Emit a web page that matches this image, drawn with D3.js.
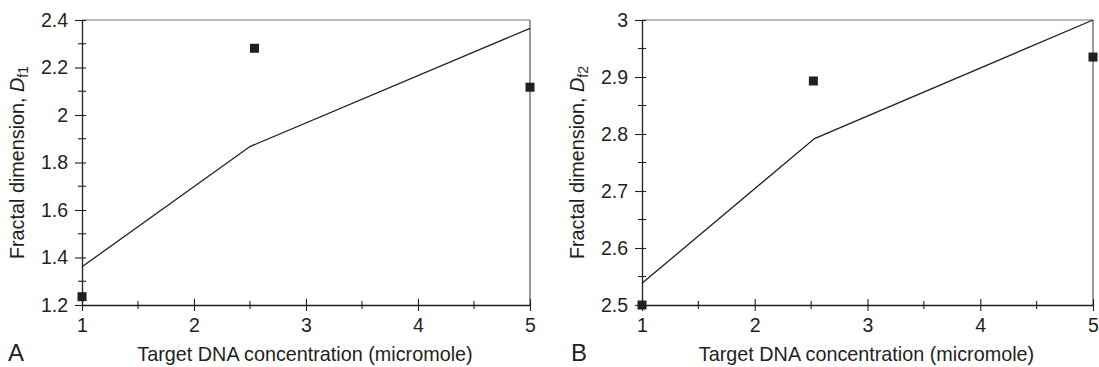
<!DOCTYPE html>
<html>
<head>
<meta charset="utf-8">
<script src="https://cdn.jsdelivr.net/npm/d3@7"></script>
<style>
  body { margin: 0; background: #fff; }
  svg { display: block; font-family: "Liberation Sans", Arial, sans-serif; }
</style>
</head>
<body>
<svg id="chart" width="1099" height="367"></svg>
<script>
// Target DNA concentration (micromole)
const xTicks = [1, 2, 3, 4, 5];

// Panel A: fractal dimension Df1
const aPointX = [1, 2.54, 5];
const aPointY = [1.235, 2.281, 2.117];
const aLineX = [1, 2.5, 5];
const aLineY = [1.361, 1.867, 2.365];
const aYTicks = [1.2, 1.4, 1.6, 1.8, 2, 2.2, 2.4];

// Panel B: fractal dimension Df2
const bPointX = [1, 2.52, 5];
const bPointY = [2.5, 2.893, 2.935];
const bLineX = [1, 2.53, 5];
const bLineY = [2.538, 2.792, 3.0];
const bYTicks = [2.5, 2.6, 2.7, 2.8, 2.9, 3];

const svg = d3.select("#chart");
const ink = "#231f20";
const tickFont = 19.5;
const titleFont = 19.8;

function panel(opts) {
  const { left, right, top, bottom, yDomain, yTicks, yMinor, pX, pY, lX, lY, sub, letter, letterX } = opts;
  const x = d3.scaleLinear().domain([1, 5]).range([left, right]);
  const y = d3.scaleLinear().domain(yDomain).range([bottom, top]);
  const g = svg.append("g");

  // frame: top and right edges
  g.append("line").attr("x1", left).attr("x2", right).attr("y1", top).attr("y2", top)
    .attr("stroke", "#777").attr("stroke-width", 1.2);
  g.append("line").attr("x1", right).attr("x2", right).attr("y1", top).attr("y2", bottom)
    .attr("stroke", "#555").attr("stroke-width", 1.2);

  // minor ticks (crossing the axes)
  const xMinor = d3.range(1.5, 5, 1);
  g.selectAll(".xminor").data(xMinor).join("line")
    .attr("x1", d => x(d)).attr("x2", d => x(d))
    .attr("y1", bottom - 4).attr("y2", bottom + 4)
    .attr("stroke", ink).attr("stroke-width", 1.1);
  g.selectAll(".yminor").data(yMinor).join("line")
    .attr("x1", left - 4).attr("x2", left + 4)
    .attr("y1", d => y(d)).attr("y2", d => y(d))
    .attr("stroke", ink).attr("stroke-width", 1.1);

  // x axis
  const xAxis = g.append("g").attr("transform", `translate(0,${bottom})`)
    .call(d3.axisBottom(x).tickValues(xTicks).tickFormat(d3.format("d")).tickSizeInner(6).tickSizeOuter(0).tickPadding(7));
  xAxis.select(".domain").attr("stroke", ink).attr("stroke-width", 1.3);
  xAxis.selectAll(".tick line").attr("y1", -6).attr("stroke", ink).attr("stroke-width", 1.1);
  xAxis.selectAll("text").attr("font-size", tickFont).attr("fill", ink).attr("font-family", "Liberation Sans, Arial, sans-serif");

  // y axis
  const yAxis = g.append("g").attr("transform", `translate(${left},0)`)
    .call(d3.axisLeft(y).tickValues(yTicks).tickFormat(d => d3.format("")(+d.toFixed(1))).tickSizeInner(7).tickSizeOuter(0).tickPadding(7));
  yAxis.select(".domain").attr("stroke", ink).attr("stroke-width", 1.3);
  yAxis.selectAll(".tick line").attr("x2", -7).attr("x1", 4).attr("stroke", ink).attr("stroke-width", 1.1);
  yAxis.selectAll("text").attr("font-size", tickFont).attr("fill", ink).attr("font-family", "Liberation Sans, Arial, sans-serif");

  // fitted line
  const line = d3.line().x(d => x(d[0])).y(d => y(d[1]));
  g.append("path").datum(d3.zip(lX, lY)).attr("d", line)
    .attr("fill", "none").attr("stroke", ink).attr("stroke-width", 1.3);

  // measured points
  const s = 9;
  g.selectAll(".pt").data(d3.zip(pX, pY)).join("rect")
    .attr("x", d => x(d[0]) - s / 2).attr("y", d => y(d[1]) - s / 2)
    .attr("width", s).attr("height", s).attr("fill", ink);

  // axis titles
  g.append("text").attr("x", (left + right) / 2 - 1).attr("y", 361)
    .attr("text-anchor", "middle").attr("font-size", titleFont).attr("fill", ink)
    .text("Target DNA concentration (micromole)");

  const yt = g.append("text")
    .attr("transform", `translate(${left - 58},${(top + bottom) / 2}) rotate(-90)`)
    .attr("text-anchor", "middle").attr("font-size", titleFont).attr("fill", ink);
  yt.append("tspan").text("Fractal dimension, ");
  yt.append("tspan").attr("font-style", "italic").text("D");
  yt.append("tspan").attr("font-size", 14).attr("dy", 4).text(sub);

  g.append("text").attr("x", letterX).attr("y", 361).attr("font-size", 24).attr("fill", ink).text(letter);
}

panel({
  left: 82, right: 530, top: 20, bottom: 305,
  yDomain: [1.2, 2.4], yTicks: aYTicks, yMinor: d3.range(1.3, 2.4, 0.2),
  pX: aPointX, pY: aPointY, lX: aLineX, lY: aLineY, sub: "f1", letter: "A", letterX: 8
});

panel({
  left: 642, right: 1093, top: 20, bottom: 305,
  yDomain: [2.5, 3], yTicks: bYTicks, yMinor: d3.range(2.55, 3, 0.1),
  pX: bPointX, pY: bPointY, lX: bLineX, lY: bLineY, sub: "f2", letter: "B", letterX: 571
});
</script>
</body>
</html>
